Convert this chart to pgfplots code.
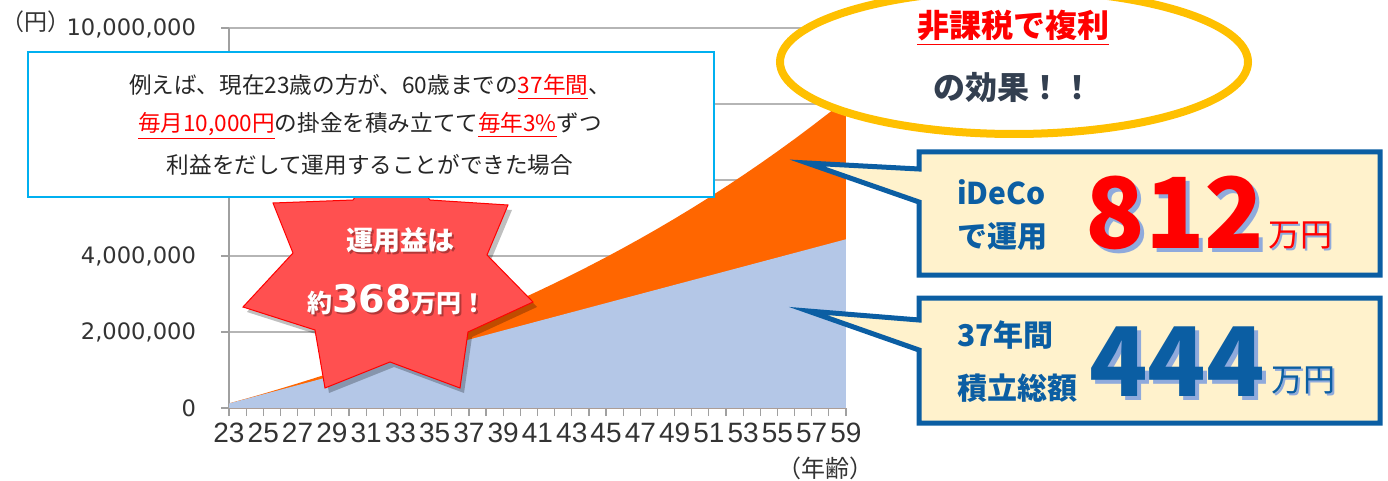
\documentclass[border=0pt]{standalone}
\usepackage{pgfplots}
\pgfplotsset{compat=1.18}
\usepackage{pgfplotstable}
\usepackage{fontspec}
\setmainfont{Noto Sans CJK JP}
\newfontfamily\dejavu{DejaVu Sans}
\newfontfamily\libsans{Liberation Sans}

\definecolor{areaorange}{HTML}{FF6600}
\definecolor{areablue}{HTML}{B4C7E7}
\definecolor{gridgray}{HTML}{B5B5B5}
\definecolor{axisgray}{HTML}{A0A0A0}
\definecolor{ticktext}{HTML}{333333}
\definecolor{calloutcyan}{HTML}{00B0F0}
\definecolor{boxblue}{HTML}{0B5EA3}
\definecolor{boxfill}{HTML}{FFF2CC}
\definecolor{gold}{HTML}{FFC000}
\definecolor{starred}{HTML}{FF5050}
\definecolor{slate}{HTML}{333F50}
\definecolor{shadowblue}{HTML}{8FAADC}

\newcommand\hl[1]{\textcolor{red}{\underline{#1}}}

% age, cumulative contribution, value with 3% growth
\pgfplotstableread{
age contrib total
23 120000 121664
24 240000 247028
25 360000 376204
26 480000 509316
27 600000 646468
28 720000 787800
29 840000 933424
30 960000 1083484
31 1080000 1238092
32 1200000 1397416
33 1320000 1561584
34 1440000 1730744
35 1560000 1905048
36 1680000 2084656
37 1800000 2269728
38 1920000 2460428
39 2040000 2656924
40 2160000 2859400
41 2280000 3068036
42 2400000 3283020
43 2520000 3504536
44 2640000 3732792
45 2760000 3967992
46 2880000 4210344
47 3000000 4460068
48 3120000 4717388
49 3240000 4982536
50 3360000 5255748
51 3480000 5537264
52 3600000 5827344
53 3720000 6126252
54 3840000 6434248
55 3960000 6751616
56 4080000 7078632
57 4200000 7415600
58 4320000 7762812
59 4440000 8120584
}\idecodata

\begin{document}
\begin{tikzpicture}
\path[use as bounding box] (0,0) rectangle (694pt,-240.5pt);
\begin{axis}[
  at={(114.5pt,-204pt)}, anchor=south west,
  scale only axis, width=308.5pt, height=190pt,
  xmin=23, xmax=59, ymin=0, ymax=10000000,
  axis x line=bottom, axis y line=left,
  axis line style={draw=axisgray, line width=0.6pt, -},
  xtick={23,25,...,59}, minor xtick={24,26,...,58},
  ytick={0,2000000,4000000,6000000,8000000,10000000},
  tick align=outside,
  major tick length=4pt, minor tick length=4pt,
  tick style={draw=axisgray, line width=0.6pt},
  ymajorgrids, grid style={draw=gridgray, line width=0.6pt},
  scaled y ticks=false,
  yticklabel style={font=\dejavu\fontsize{11.3}{13}\selectfont, text=ticktext,
    xshift=-9pt,
    /pgf/number format/fixed, /pgf/number format/1000 sep={,},
    /pgf/number format/assume math mode=true},
  xticklabel style={font=\libsans\fontsize{14}{16}\selectfont, text=ticktext,
    /pgf/number format/assume math mode=true},
]
\addplot[fill=areaorange, draw=none] table[x=age, y=total] {\idecodata} \closedcycle;
\addplot[fill=areablue, draw=none] table[x=age, y=contrib] {\idecodata} \closedcycle;
\end{axis}

\begin{scope}[x=0.5pt, y=-0.5pt]
% axis unit labels
\node[font=\fontsize{11.5}{14}\selectfont, text=ticktext, inner sep=0pt] at (36,22) {（円）};
\node[font=\fontsize{12}{14}\selectfont, text=ticktext, inner sep=0pt] at (825,468) {（年齢）};

% star (behind the explanation box)
\fill[black, opacity=0.25] (277,208) -- (297,258) -- (247,312) -- (319,335) -- (329,393) -- (394,367) -- (464,393) -- (472,337) -- (537,307) -- (491,260) -- (512,210) -- (434,205) -- (394,155) -- (357,205) -- cycle;
\draw[red, line width=0.5pt, fill=starred] (273,203) -- (293,253) -- (243,307) -- (315,330) -- (325,388) -- (390,362) -- (460,388) -- (468,332) -- (533,302) -- (487,255) -- (508,205) -- (430,200) -- (390,150) -- (353,200) -- cycle;
\node[font=\bfseries\fontsize{13.5}{15}\selectfont, text=black, opacity=0.3] at (402,242) {運用益は};
\node[font=\bfseries\fontsize{13.5}{15}\selectfont, text=white] at (400,240) {運用益は};
\node[text=black, opacity=0.3] at (399,302) {\bfseries\fontsize{12.5}{14}\selectfont 約{\dejavu\bfseries\fontsize{19}{20}\selectfont 368}万円！};
\node[text=white] at (397,300) {\bfseries\fontsize{12.5}{14}\selectfont 約{\dejavu\bfseries\fontsize{19}{20}\selectfont 368}万円！};

% explanation box
\draw[calloutcyan, line width=1.3pt, fill=white] (28,52) rectangle (714,197);
\begin{scope}[font=\fontsize{11.3}{13}\selectfont, text=black!85]
\node at (370,87) {例えば、現在23歳の方が、60歳までの\hl{37年間}、};
\node at (370,126) {\hl{毎月10,000円}の掛金を積み立てて\hl{毎年3\%}ずつ};
\node at (370,165) {利益をだして運用することができた場合};
\end{scope}

% ellipse
\draw[gold, line width=4pt, fill=white] (1014,62) ellipse [x radius=234, y radius=72];
\node[font=\bfseries\fontsize{16}{18}\selectfont, text=red] at (1013,28) {\underline{非課税で複利}};
\node[font=\bfseries\fontsize{16}{18}\selectfont, text=slate] at (1013,88) {の効果！！};

% box 1
\draw[boxblue, line width=2.5pt, fill=boxfill, miter limit=20] (919,152) -- (1380,152) -- (1380,275) -- (919,275) -- (919,202) -- (807,163) -- (919,169) -- cycle;
\node[font=\bfseries\fontsize{15}{17}\selectfont, text=boxblue, anchor=west] at (950,192) {iDeCo};
\node[font=\bfseries\fontsize{15}{17}\selectfont, text=boxblue, anchor=west] at (950,237) {で運用};
\node[font=\bfseries\fontsize{49}{50}\selectfont, text=shadowblue] at (1179,217) {812};
\node[font=\bfseries\fontsize{49}{50}\selectfont, text=red] at (1175,213) {812};
\node[font=\fontsize{16}{18}\selectfont, text=shadowblue] at (1302,237) {万円};
\node[font=\fontsize{16}{18}\selectfont, text=red] at (1300,235) {万円};

% box 2
\draw[boxblue, line width=2.5pt, fill=boxfill, miter limit=20] (919,298) -- (1380,298) -- (1380,423) -- (919,423) -- (919,350) -- (808,311) -- (919,320) -- cycle;
\node[font=\bfseries\fontsize{15}{17}\selectfont, text=boxblue, anchor=west] at (950,335) {37年間};
\node[font=\bfseries\fontsize{15}{17}\selectfont, text=boxblue, anchor=west] at (950,388) {積立総額};
\node[font=\bfseries\fontsize{48}{50}\selectfont, text=shadowblue] at (1181,366) {444};
\node[font=\bfseries\fontsize{48}{50}\selectfont, text=boxblue] at (1177,362) {444};
\node[font=\fontsize{16}{18}\selectfont, text=shadowblue] at (1305,382) {万円};
\node[font=\fontsize{16}{18}\selectfont, text=boxblue] at (1303,380) {万円};
\end{scope}
\end{tikzpicture}
\end{document}
